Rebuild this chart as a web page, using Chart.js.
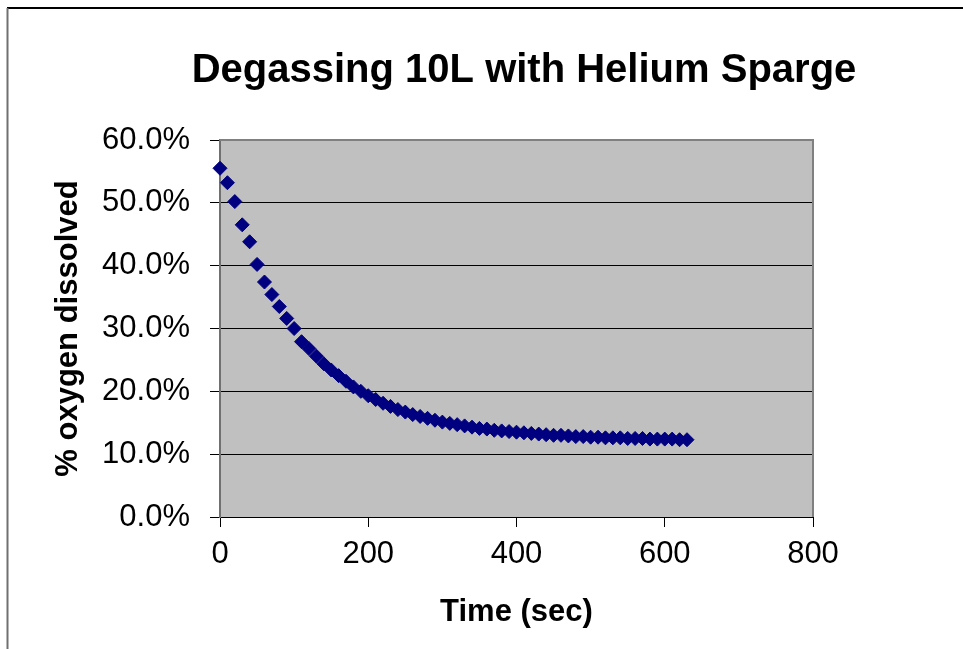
<!DOCTYPE html>
<html>
<head>
<meta charset="utf-8">
<title>Degassing 10L with Helium Sparge</title>
<script src="https://cdn.jsdelivr.net/npm/chart.js@4.4.0/dist/chart.umd.min.js"></script>
<style>
  html, body { margin: 0; padding: 0; background: #fff; }
  #chart { display: block; }
</style>
</head>
<body>
<canvas id="chart" width="963" height="649"></canvas>
<script>
// Time (sec) of each reading
const times = [
    0, 10, 20, 30, 40, 50, 60, 70, 80, 90,
    100, 110, 120, 130, 140, 150, 160, 170, 180, 190,
    200, 210, 220, 230, 240, 250, 260, 270, 280, 290,
    300, 310, 320, 330, 340, 350, 360, 370, 380, 390,
    400, 410, 420, 430, 440, 450, 460, 470, 480, 490,
    500, 510, 520, 530, 540, 550, 560, 570, 580, 590,
    600, 610, 620, 630
];

// % oxygen dissolved
const oxygen = [
    55.5, 53.2, 50.2, 46.5, 43.8, 40.2, 37.4, 35.4, 33.5, 31.6,
    30.0, 27.9, 26.8, 25.6, 24.4, 23.4, 22.5, 21.6, 20.7, 20.0,
    19.3, 18.7, 18.1, 17.6, 17.1, 16.7, 16.3, 16.0, 15.7, 15.4,
    15.1, 14.9, 14.7, 14.5, 14.3, 14.1, 14.0, 13.8, 13.7, 13.6,
    13.5, 13.4, 13.3, 13.2, 13.1, 13.0, 13.0, 12.9, 12.8, 12.8,
    12.7, 12.7, 12.6, 12.6, 12.6, 12.5, 12.5, 12.5, 12.4, 12.4,
    12.4, 12.4, 12.3, 12.3
];

const xTicks = [0, 200, 400, 600, 800];
const yTicks = [0, 10, 20, 30, 40, 50, 60];

const chartTitle = 'Degassing 10L with Helium Sparge';
const xTitle = 'Time (sec)';
const yTitle = '% oxygen dissolved';

const FONT = "'Liberation Sans', Arial, sans-serif";

// Plot background, outer frame and title (Excel style)
const excelFrame = {
    id: 'excelFrame',
    beforeDraw(chart) {
        const { ctx, chartArea: a } = chart;
        ctx.save();
        ctx.fillStyle = '#ffffff';
        ctx.fillRect(0, 0, chart.width, chart.height);
        ctx.fillStyle = '#c0c0c0';
        ctx.fillRect(a.left, a.top, a.right - a.left, a.bottom - a.top);

        // outer chart border
        ctx.lineWidth = 2;
        ctx.strokeStyle = '#000000';
        ctx.beginPath();
        ctx.moveTo(7, 8);
        ctx.lineTo(chart.width, 8);
        ctx.stroke();
        ctx.strokeStyle = '#707070';
        ctx.beginPath();
        ctx.moveTo(7.5, 8);
        ctx.lineTo(7.5, chart.height);
        ctx.stroke();
        ctx.restore();
    },
    beforeDatasetsDraw(chart) {
        const { ctx, chartArea: a } = chart;
        ctx.save();
        ctx.strokeStyle = '#808080';
        ctx.lineWidth = 2;
        ctx.beginPath();
        ctx.moveTo(a.left, a.top);
        ctx.lineTo(a.right, a.top);
        ctx.lineTo(a.right, a.bottom);
        ctx.stroke();
        ctx.restore();
    },
    afterDraw(chart) {
        const ctx = chart.ctx;
        ctx.save();
        ctx.fillStyle = '#000000';
        ctx.font = 'bold 40px ' + FONT;
        ctx.textAlign = 'center';
        ctx.textBaseline = 'alphabetic';
        ctx.fillText(chartTitle, 524, 82);
        ctx.restore();
    }
};

const ctx = document.getElementById('chart').getContext('2d');
const chart = new Chart(ctx, {
    type: 'scatter',
    data: {
        datasets: [{
            label: yTitle,
            data: times.map((t, i) => ({ x: t, y: oxygen[i] })),
            pointStyle: 'rectRot',
            pointRadius: 7,
            pointHoverRadius: 7,
            backgroundColor: '#000080',
            borderColor: '#000080',
            borderWidth: 1,
            clip: false
        }]
    },
    options: {
        responsive: false,
        animation: false,
        layout: {
            padding: { top: 140, right: 150, bottom: 0, left: 0 }
        },
        plugins: {
            legend: { display: false },
            title: { display: false },
            tooltip: { enabled: false }
        },
        scales: {
            x: {
                type: 'linear',
                min: 0,
                max: 800,
                afterBuildTicks(scale) {
                    scale.ticks = xTicks.map(v => ({ value: v }));
                },
                afterFit(scale) { scale.height = 132; },
                grid: {
                    drawOnChartArea: false,
                    drawTicks: true,
                    tickLength: 10,
                    color: '#000000',
                    lineWidth: 1
                },
                border: { display: true, color: '#000000', width: 1 },
                ticks: {
                    color: '#000000',
                    padding: 9,
                    maxRotation: 0,
                    font: { family: FONT, size: 31 }
                },
                title: {
                    display: true,
                    text: xTitle,
                    color: '#000000',
                    padding: { top: 0, bottom: 18 },
                    font: { family: FONT, size: 31, weight: 'bold' }
                }
            },
            y: {
                type: 'linear',
                min: 0,
                max: 60,
                afterBuildTicks(scale) {
                    scale.ticks = yTicks.map(v => ({ value: v }));
                },
                afterFit(scale) { scale.width = 220; },
                grid: {
                    drawOnChartArea: true,
                    drawTicks: true,
                    tickLength: 10,
                    color: '#000000',
                    lineWidth: 1
                },
                border: { display: true, color: '#707070', width: 2 },
                ticks: {
                    color: '#000000',
                    padding: 20,
                    font: { family: FONT, size: 31 },
                    callback: v => v.toFixed(1) + '%'
                },
                title: {
                    display: true,
                    text: yTitle,
                    color: '#000000',
                    padding: { top: 50, bottom: 0 },
                    font: { family: FONT, size: 31, weight: 'bold' }
                }
            }
        }
    },
    plugins: [excelFrame]
});
</script>
</body>
</html>
